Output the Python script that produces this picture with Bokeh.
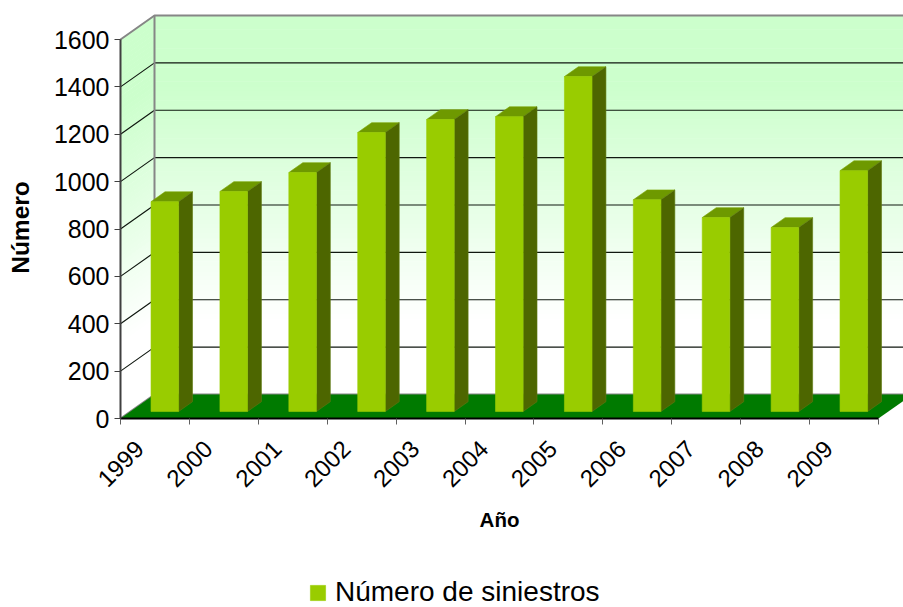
from bokeh.embed import file_html
from bokeh.resources import INLINE
from bokeh.plotting import figure
from bokeh.models import Range1d, LinearAxis, FixedTicker, Legend, LegendItem
from bokeh.core.properties import value
import numpy as np

years = ["1999", "2000", "2001", "2002", "2003", "2004", "2005", "2006", "2007", "2008", "2009"]
siniestros = [886, 929, 1009, 1178, 1233, 1245, 1414, 894, 819, 777, 1017]
y_ticks = [0, 200, 400, 600, 800, 1000, 1200, 1400, 1600]
series_name = "Número de siniestros"
x_title = "Año"
y_title = "Número"

# layout of the page (pixels)
W, H = 903, 607
PX0, PY0 = 120.0, 418.0     # origin of the front plane
PX_UNIT = 68.9              # pixels per category
PY_UNIT = 379.0 / 1600.0    # pixels per unit of value
DEPTH_X = 34.0 / PX_UNIT    # floor depth, in category units
DEPTH_Y = 24.0 / PY_UNIT    # floor depth, in value units
FONT = "Liberation Sans"

x_range = Range1d((0 - PX0) / PX_UNIT, (W - PX0) / PX_UNIT)
y_range = Range1d((PY0 - H) / PY_UNIT, PY0 / PY_UNIT)

p = figure(width=W, height=H, x_range=x_range, y_range=y_range, output_backend="svg",
           toolbar_location=None, min_border=0, x_axis_type=None, y_axis_type=None,
           background_fill_color="white", border_fill_color="white")
p.outline_line_color = None
p.grid.visible = False

n = len(years)
vmax = y_ticks[-1]
far_x = n + DEPTH_X


def px(x, d):
    return x + d * DEPTH_X


def py(v, d):
    return v + d * DEPTH_Y


def mix(t):
    t = min(max(t, 0.0), 1.0)
    a, b = (204, 255, 204), (255, 255, 255)
    return "#%02x%02x%02x" % tuple(round(a[i] + (b[i] - a[i]) * t) for i in range(3))


# graded walls
edges = np.linspace(0, vmax, 81)
for lo, hi in zip(edges[:-1], edges[1:]):
    c = mix((vmax * 0.82 - hi) / (vmax * 0.62))
    p.patch([px(0, 1), far_x, far_x, px(0, 1)], [py(lo, 1), py(lo, 1), py(hi, 1) + 2, py(hi, 1) + 2],
            fill_color=c, line_color=None)
    p.patch([0, px(0, 1), px(0, 1), 0], [lo, py(lo, 1), py(hi, 1) + 2, hi + 2], fill_color=c, line_color=None)

# gridlines
for v in y_ticks[1:-1]:
    p.line([0, px(0, 1), far_x], [v, py(v, 1), py(v, 1)], line_color="#101810", line_width=1.2)

# wall edges
p.line([0, px(0, 1), far_x], [vmax, py(vmax, 1), py(vmax, 1)], line_color="#868686", line_width=2)
p.line([px(0, 1), px(0, 1)], [py(0, 1), py(vmax, 1)], line_color="#868686", line_width=2)
p.line([0, px(0, 1), far_x], [0, py(0, 1), py(0, 1)], line_color="#868686", line_width=2)

# floor
p.patch([0, n, px(n, 1), px(0, 1)], [0, 0, py(0, 1), py(0, 1)], fill_color="#007a00", line_color=None)

# bars
BAR_W = 0.40
D_FRONT, D_BACK = 0.29, 0.70
key = None
for i, val in enumerate(siniestros):
    cx = i + 0.5
    l, r = cx - BAR_W / 2, cx + BAR_W / 2
    p.patch([px(l, D_FRONT), px(r, D_FRONT), px(r, D_BACK), px(l, D_BACK)],
            [py(val, D_FRONT), py(val, D_FRONT), py(val, D_BACK), py(val, D_BACK)],
            fill_color="#6e9900", line_color="#7aa300", line_width=0.6)
    p.patch([px(r, D_FRONT), px(r, D_BACK), px(r, D_BACK), px(r, D_FRONT)],
            [py(0, D_FRONT), py(0, D_BACK), py(val, D_BACK), py(val, D_FRONT)],
            fill_color="#4d6600", line_color="#5e7a10", line_width=0.6)
    key = p.patch([px(l, D_FRONT), px(r, D_FRONT), px(r, D_FRONT), px(l, D_FRONT)],
                  [py(0, D_FRONT), py(0, D_FRONT), py(val, D_FRONT), py(val, D_FRONT)],
                  fill_color="#99cc00", line_color="#99cc00", line_width=0.6)

# axes
yaxis = LinearAxis(fixed_location=0, ticker=FixedTicker(ticks=y_ticks), bounds=(0, vmax))
yaxis.axis_line_color = "#404040"
yaxis.axis_line_width = 2
yaxis.major_tick_line_color = "#404040"
yaxis.major_tick_line_width = 1
yaxis.major_tick_in = 0
yaxis.major_tick_out = 6
yaxis.minor_tick_line_color = None
yaxis.major_label_text_font = FONT
yaxis.major_label_text_font_size = "25px"
yaxis.major_label_text_color = "#000000"
yaxis.major_label_standoff = 5
p.add_layout(yaxis, "left")

xaxis = LinearAxis(fixed_location=0, ticker=FixedTicker(ticks=list(range(n + 1))), bounds=(0, n))
xaxis.axis_line_color = "#000000"
xaxis.axis_line_width = 2
xaxis.major_tick_line_color = "#606060"
xaxis.major_tick_line_width = 1
xaxis.major_tick_in = 0
xaxis.major_tick_out = 6
xaxis.minor_tick_line_color = None
xaxis.major_label_text_color = None
xaxis.major_label_text_font_size = "1px"
p.add_layout(xaxis, "below")

# tick labels and titles
label_y = [-45 / PY_UNIT] * n
p.text(x=list(range(n)), y=label_y, text=years, text_font=value(FONT), text_font_size="24px",
       text_color="#000000", text_align="center", text_baseline="middle", angle=np.pi / 4)
p.text(x=[(499 - PX0) / PX_UNIT], y=[(PY0 - 519) / PY_UNIT], text=[x_title], text_font=value(FONT),
       text_font_size="20.5px", text_font_style="bold", text_color="#000000",
       text_align="center", text_baseline="middle")
p.text(x=[(20 - PX0) / PX_UNIT], y=[(PY0 - 227) / PY_UNIT], text=[y_title], text_font=value(FONT),
       text_font_size="24.5px", text_font_style="bold", text_color="#000000",
       text_align="center", text_baseline="middle", angle=np.pi / 2)

# legend
legend = Legend(items=[LegendItem(label=series_name, renderers=[key])], location=(308, -1),
                border_line_color=None, background_fill_color=None, glyph_width=19, glyph_height=19,
                label_text_font=FONT, label_text_font_size="28px", label_text_color="#000000",
                margin=0, padding=0, label_standoff=8, spacing=0)
p.add_layout(legend, "center")

open("out.html", "w").write(file_html(p, INLINE))
